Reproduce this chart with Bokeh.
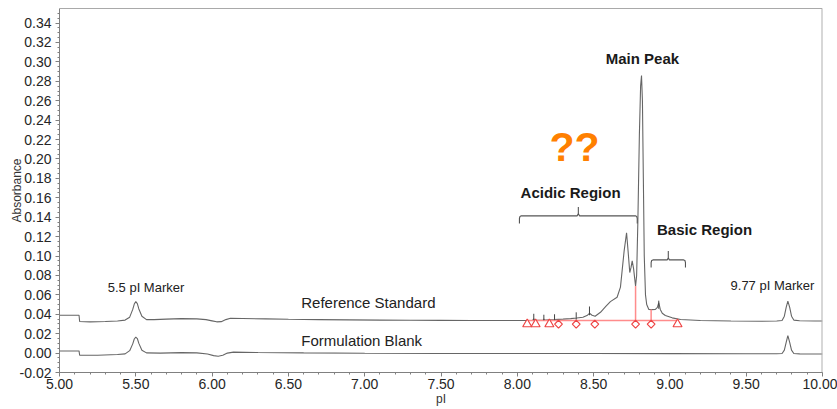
from math import pi

from bokeh.embed import file_html
from bokeh.models import Label, NumeralTickFormatter, Range1d, SingleIntervalTicker, Span
from bokeh.plotting import figure
from bokeh.resources import INLINE

# ---- electropherogram traces (pI vs absorbance) ----
REF_PI = [5.00, 5.128, 5.132, 5.20, 5.30, 5.38, 5.43, 5.46, 5.48, 5.49, 5.50, 5.51, 5.52, 5.54, 5.57,
          5.62, 5.70, 5.80, 5.90, 5.96, 6.00, 6.03, 6.06, 6.09, 6.12, 6.20, 6.35, 6.50, 6.70, 6.90,
          7.10, 7.30, 7.50, 7.70, 7.90, 8.00, 8.06, 8.10, 8.108, 8.115, 8.17, 8.174, 8.18, 8.24, 8.30,
          8.35, 8.39, 8.43, 8.46, 8.473, 8.49, 8.51, 8.545, 8.58, 8.61, 8.654, 8.676, 8.687, 8.70,
          8.716, 8.726, 8.737, 8.745, 8.753, 8.762, 8.775, 8.782, 8.790, 8.800, 8.808, 8.814, 8.820,
          8.826, 8.832, 8.840, 8.848, 8.862, 8.880, 8.905, 8.918, 8.927, 8.937, 8.950, 8.970, 9.015,
          9.07, 9.20, 9.40, 9.60, 9.70, 9.735, 9.750, 9.762, 9.773, 9.785, 9.797, 9.812, 9.85, 9.95,
          10.00]
REF_ABS = [0.0390, 0.0390, 0.0325, 0.0322, 0.0325, 0.0330, 0.0340, 0.0370, 0.0450, 0.0505, 0.0530,
           0.0510, 0.0455, 0.0380, 0.0345, 0.0345, 0.0350, 0.0355, 0.0352, 0.0345, 0.0332, 0.0322,
           0.0324, 0.0345, 0.0358, 0.0356, 0.0352, 0.0348, 0.0345, 0.0342, 0.0340, 0.0338, 0.0337,
           0.0336, 0.0335, 0.0335, 0.0336, 0.0338, 0.0352, 0.0339, 0.0340, 0.0350, 0.0341, 0.0345,
           0.0350, 0.0355, 0.0362, 0.0370, 0.0390, 0.0410, 0.0390, 0.0380, 0.0420, 0.0480, 0.0530,
           0.0575, 0.0680, 0.0850, 0.1050, 0.1240, 0.1050, 0.0830, 0.0880, 0.0950, 0.0870, 0.0690,
           0.0800, 0.1350, 0.2250, 0.2750, 0.2860, 0.2600, 0.1800, 0.1000, 0.0600, 0.0500, 0.0450,
           0.0448, 0.0450, 0.0470, 0.0520, 0.0450, 0.0410, 0.0387, 0.0363, 0.0346, 0.0335, 0.0330,
           0.0328, 0.0330, 0.0335, 0.0380, 0.0470, 0.0535, 0.0470, 0.0380, 0.0340, 0.0333, 0.0330,
           0.0330]

BLANK_PI = [5.00, 5.128, 5.132, 5.25, 5.38, 5.43, 5.46, 5.48, 5.49, 5.50, 5.51, 5.52, 5.54, 5.57,
            5.66, 5.80, 5.90, 5.97, 6.01, 6.04, 6.07, 6.10, 6.14, 6.30, 6.60, 7.00, 7.50, 8.00, 8.50,
            9.00, 9.50, 9.70, 9.735, 9.750, 9.762, 9.773, 9.785, 9.797, 9.812, 9.85, 10.00]
BLANK_ABS = [0.0022, 0.0022, -0.0022, -0.0022, -0.0015, -0.0008, 0.0025, 0.0095, 0.0145, 0.0165,
             0.0150, 0.0100, 0.0030, 0.0002, 0.0000, 0.0005, 0.0002, -0.0010, -0.0026, -0.0032,
             -0.0022, 0.0000, 0.0010, 0.0006, 0.0002, -0.0002, -0.0004, -0.0005, -0.0005, -0.0006,
             -0.0007, -0.0007, -0.0004, 0.0030, 0.0110, 0.0180, 0.0110, 0.0030, -0.0004, -0.0008,
             -0.0010]

# ---- peak integration marks on the reference standard ----
PEAK_START_PI = [8.065, 8.12, 8.21, 9.05]          # triangles
PEAK_SPLIT_PI = [8.27, 8.386, 8.508, 8.775, 8.877]  # diamonds
INTEGRATION_BASE = 0.0335
MARK_ABS = 0.0298
DROP_PI = [8.775, 8.877]
DROP_TOP = [0.0690, 0.0448]
APEX_PI = [8.108, 8.174, 8.244, 8.386, 8.473, 8.927]
APEX_LO = [0.0338, 0.0338, 0.0340, 0.0345, 0.0390, 0.0456]
APEX_HI = [0.0405, 0.0395, 0.0400, 0.0420, 0.0480, 0.0540]

# ---- region brackets: (start, end, level) ----
ACIDIC_BRACE = (8.014, 8.786, 0.1414)
BASIC_BRACE = (8.877, 9.102, 0.0960)

FONT = "Liberation Sans"
TRACE = "#666666"
RED = "#ee4444"
RED_LINE = "#ff8c8c"

p = figure(width=837, height=409, output_backend="svg", toolbar_location=None,
           x_range=Range1d(5.0, 10.0), y_range=Range1d(-0.02, 0.355),
           min_border_left=59, min_border_right=15, min_border_top=8, min_border_bottom=37)
p.outline_line_color = None
p.grid.visible = False
p.background_fill_color = "white"

# axes
p.xaxis.ticker = SingleIntervalTicker(interval=0.5, num_minor_ticks=5)
p.yaxis.ticker = SingleIntervalTicker(interval=0.02, num_minor_ticks=4)
p.xaxis.formatter = NumeralTickFormatter(format="0.00")
p.yaxis.formatter = NumeralTickFormatter(format="0.00")
for ax in (p.xaxis, p.yaxis):
    ax.axis_line_color = "#808080"
    ax.major_tick_line_color = "#808080"
    ax.minor_tick_line_color = "#808080"
    ax.major_tick_in = 0
    ax.major_tick_out = 4
    ax.minor_tick_in = 0
    ax.minor_tick_out = 2
    ax.major_label_text_font = FONT
    ax.major_label_text_font_size = "14px"
    ax.major_label_text_color = "#262626"
    ax.axis_label_text_font = FONT
    ax.axis_label_text_font_size = "12px"
    ax.axis_label_text_font_style = "normal"
    ax.axis_label_text_color = "#333333"
p.xaxis.major_label_standoff = 2
p.yaxis.major_label_standoff = 4
p.xaxis.axis_label = "pI"
p.xaxis.axis_label_standoff = 0
p.yaxis.axis_label = "Absorbance"
# the rotated label sits in the gap above the lowest tick labels
p.yaxis.axis_label_standoff = -7

# frame top and right edges
p.add_layout(Span(location=0.355, dimension="width", line_color="#555555", line_width=1))
p.add_layout(Span(location=10.0, dimension="height", line_color="#b0b0b0", line_width=2))

# traces
p.line(REF_PI, REF_ABS, line_color=TRACE, line_width=1.1)
p.line(BLANK_PI, BLANK_ABS, line_color=TRACE, line_width=1.1)

# integration baseline, drop lines and markers
p.line([PEAK_START_PI[0], PEAK_START_PI[-1]], [INTEGRATION_BASE, INTEGRATION_BASE],
       line_color=RED_LINE, line_width=1.5)
p.segment(x0=DROP_PI, y0=[INTEGRATION_BASE] * len(DROP_PI), x1=DROP_PI, y1=DROP_TOP,
          line_color=RED_LINE, line_width=1.5)
p.segment(x0=APEX_PI, y0=APEX_LO, x1=APEX_PI, y1=APEX_HI, line_color="#444444", line_width=1)
p.scatter(PEAK_START_PI, [MARK_ABS] * len(PEAK_START_PI), marker="triangle", size=9,
          fill_color="white", line_color=RED, line_width=1.2)
p.scatter(PEAK_SPLIT_PI, [MARK_ABS] * len(PEAK_SPLIT_PI), marker="square", angle=pi / 4, size=5.5,
          fill_color="white", line_color=RED, line_width=1.2)


def brace(x0, x1, y, drop, rise):
    """Square bracket with rounded ends and a centre tick."""
    xm = (x0 + x1) / 2
    dx = 0.012
    xs = [x0, x0, x0 + dx * 0.3, x0 + dx, xm - dx * 0.6, xm, xm, xm, xm + dx * 0.6,
          x1 - dx, x1 - dx * 0.3, x1, x1]
    ys = [y - drop, y - drop * 0.35, y - drop * 0.08, y, y, y + rise * 0.25, y + rise,
          y + rise * 0.25, y, y, y - drop * 0.08, y - drop * 0.35, y - drop]
    return xs, ys


for x0, x1, lvl in (ACIDIC_BRACE, BASIC_BRACE):
    bx, by = brace(x0, x1, lvl, 0.0078, 0.0092)
    p.line(bx, by, line_color="#555555", line_width=1.1)


def label(text, x, y, size, bold=False, color="#1a1a1a", align="center"):
    p.add_layout(Label(x=x, y=y, text=text, text_font=FONT, text_font_size=size,
                       text_font_style="bold" if bold else "normal", text_color=color,
                       text_align=align, text_baseline="middle"))


label("Main Peak", 8.82, 0.304, "15px", bold=True)
label("??", 8.375, 0.2125, "41px", bold=True, color="#ff8000")
label("Acidic Region", 8.349, 0.165, "15px", bold=True)
label("Basic Region", 9.227, 0.127, "15px", bold=True)
label("5.5 pI Marker", 5.567, 0.0678, "13px", color="#222222")
label("9.77 pI Marker", 9.672, 0.0695, "13px", color="#222222")
label("Reference Standard", 6.584, 0.0524, "15px", color="#222222", align="left")
label("Formulation Blank", 6.584, 0.0130, "15px", color="#222222", align="left")

open("out.html", "w").write(file_html(p, INLINE))
